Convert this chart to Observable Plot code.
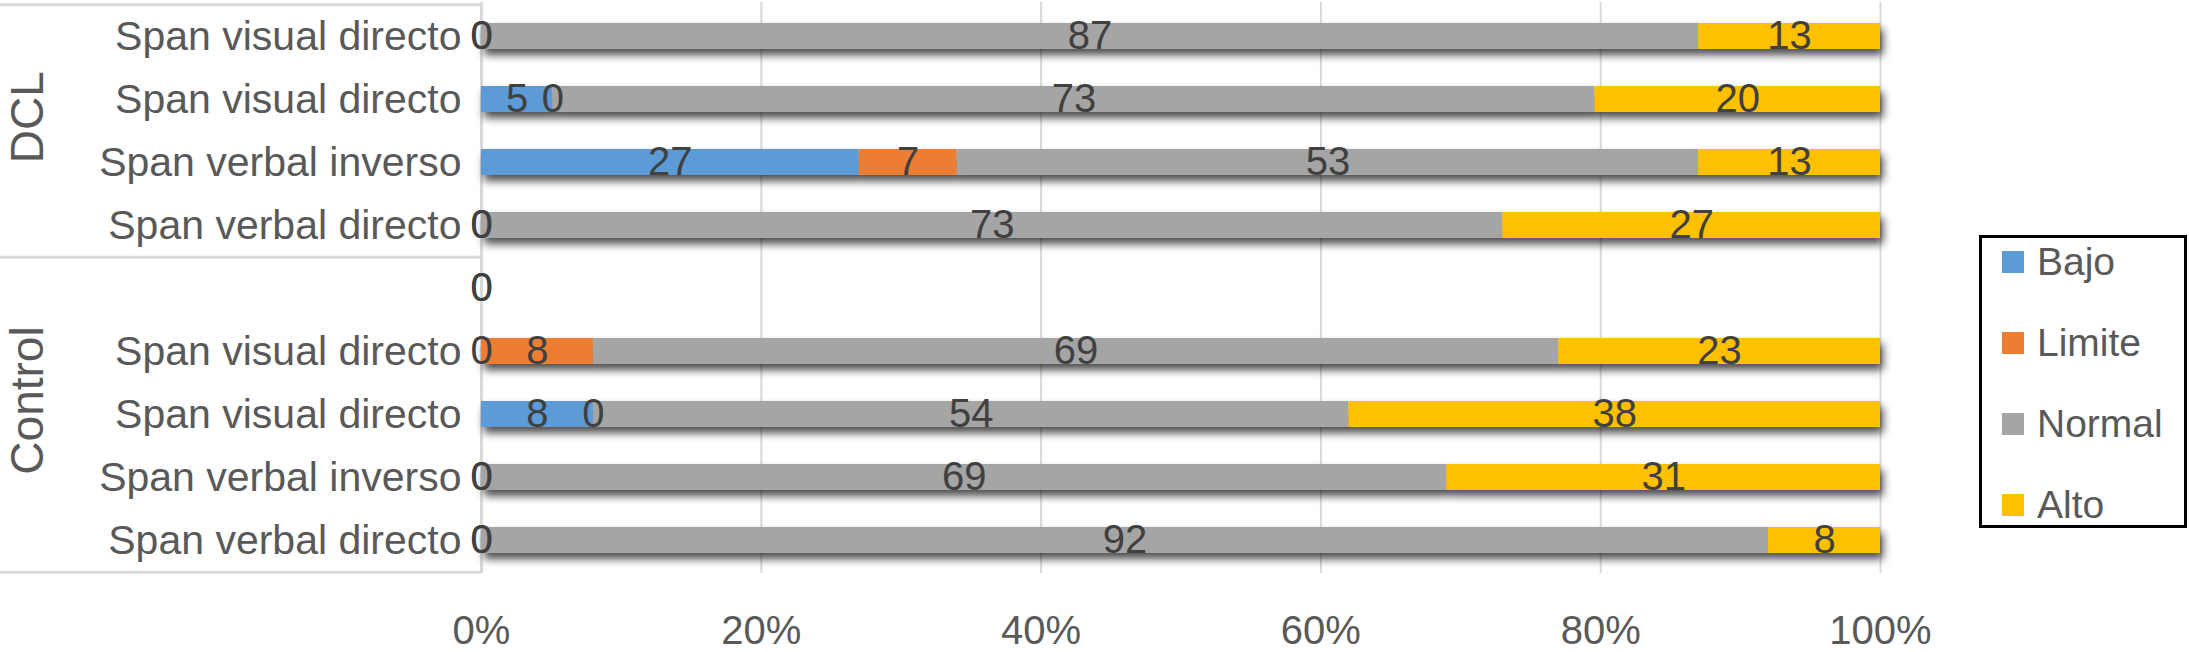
<!DOCTYPE html>
<html>
<head>
<meta charset="utf-8">
<script src="https://cdn.jsdelivr.net/npm/d3@7"></script>
<script src="https://cdn.jsdelivr.net/npm/@observablehq/plot@0.6"></script>
<style>
  body { margin: 0; background: #fff; }
  #wrap { position: relative; width: 2189px; height: 652px; font-family: "Liberation Sans", Arial, Helvetica, sans-serif; background: #fff; }
  #legend { position: absolute; left: 1979px; top: 235px; width: 208px; height: 293px; box-sizing: border-box;
            border: 3px solid #000; padding: 13px 0 0 20px; background: #fff; }
  .item { display: flex; align-items: center; height: 22px; margin-bottom: 59px; font-size: 39px; color: #595959; white-space: nowrap; }
  .sw { width: 22px; height: 22px; margin-right: 13px; flex: none; }
</style>
</head>
<body>
<div id="wrap"><div id="chart"></div><div id="legend"></div></div>
<script>
// ---- data (top to bottom) ----
const groups = ["DCL", "DCL", "DCL", "DCL", "Control", "Control", "Control", "Control", "Control"];
const tests  = ["Span visual directo", "Span visual directo", "Span verbal inverso", "Span verbal directo", "",
                "Span visual directo", "Span visual directo", "Span verbal inverso", "Span verbal directo"];
const levels = ["Bajo", "Limite", "Normal", "Alto"];
const colors = ["#5b9bd5", "#ed7d31", "#a5a5a5", "#ffc000"];
const bajo   = [0, 5, 27, 0, 0, 0, 8, 0, 0];
const limite = [0, 0, 7, 0, 0, 8, 0, 0, 0];
const normal = [87, 73, 53, 73, null, 69, 54, 69, 92];
const alto   = [13, 20, 13, 27, null, 23, 38, 31, 8];
const xTicks = [0, 0.2, 0.4, 0.6, 0.8, 1];
const groupNames = ["DCL", "Control"];

// ---- build table ----
const keys = tests.map((t, i) => `${groups[i]}-${i}`);
const series = [bajo, limite, normal, alto];
const data = [];
keys.forEach((k, i) => {
  levels.forEach((lv, j) => {
    const v = series[j][i];
    if (v !== null && v !== undefined) data.push({row: k, level: lv, value: v});
  });
});

// ---- layout ----
const W = 2189, H = 652, ML = 481, MR = 309, MT = 2, MB = 79;
const step = (H - MT - MB) / keys.length;
const lineColor = "#d9d9d9";
const stackOpts = {offset: "normalize", x: "value", y: "row"};

const chart = Plot.plot({
  width: W, height: H,
  marginLeft: ML, marginRight: MR, marginTop: MT, marginBottom: MB,
  style: {fontFamily: '"Liberation Sans", Arial, Helvetica, sans-serif', color: "#595959", background: "#fff"},
  x: {domain: [0, 1]},
  y: {type: "band", domain: keys, paddingInner: 0.59, paddingOuter: 0.295},
  color: {domain: levels, range: colors},
  marks: [
    Plot.gridX({ticks: xTicks, stroke: lineColor, strokeOpacity: 1, strokeWidth: 2}),
    Plot.ruleX([0], {stroke: lineColor, strokeWidth: 3}),
    Plot.barX(data, Plot.stackX({...stackOpts, fill: "level"})),
    Plot.text(data, Plot.stackX({...stackOpts, text: d => String(d.value), fill: "#404040", fontSize: 40})),
    Plot.ruleY([keys[0]], {dy: -step / 2, insetLeft: -ML, insetRight: W - ML - MR, stroke: lineColor, strokeWidth: 3}),
    Plot.ruleY([keys[3], keys[8]], {dy: step / 2, insetLeft: -ML, insetRight: W - ML - MR, stroke: lineColor, strokeWidth: 3}),
    Plot.text([groupNames[0]], {y: () => keys[1], text: d => d, rotate: -90, frameAnchor: "left", textAnchor: "middle", dx: -(ML - 28), dy: step / 2 - 14, fontSize: 46, fill: "#595959"}),
    Plot.text([groupNames[1]], {y: () => keys[6], text: d => d, rotate: -90, frameAnchor: "left", textAnchor: "middle", dx: -(ML - 28), dy: -14, fontSize: 46, fill: "#595959"}),
    Plot.axisY({tickSize: 0, tickPadding: 20, fontSize: 41, label: null, tickFormat: k => tests[keys.indexOf(k)]}),
    Plot.axisX({ticks: xTicks, tickSize: 0, tickPadding: 42, fontSize: 40, label: null, tickFormat: d => Math.round(d * 100) + "%"})
  ]
});

// drop shadow on bars
const svg = d3.select(chart);
svg.insert("defs", ":first-child").html(
  '<filter id="barShadow" x="-5%" y="-20%" width="110%" height="150%">' +
  '<feDropShadow dx="3" dy="6" stdDeviation="4" flood-color="#000" flood-opacity="0.7"/></filter>');
svg.selectAll('g[aria-label="bar"]').attr("filter", "url(#barShadow)");

document.getElementById("chart").appendChild(chart);

// legend
const lg = d3.select("#legend");
levels.forEach((lv, j) => {
  const it = lg.append("div").attr("class", "item");
  it.append("div").attr("class", "sw").style("background", colors[j]);
  it.append("span").text(lv);
});
</script>
</body>
</html>
